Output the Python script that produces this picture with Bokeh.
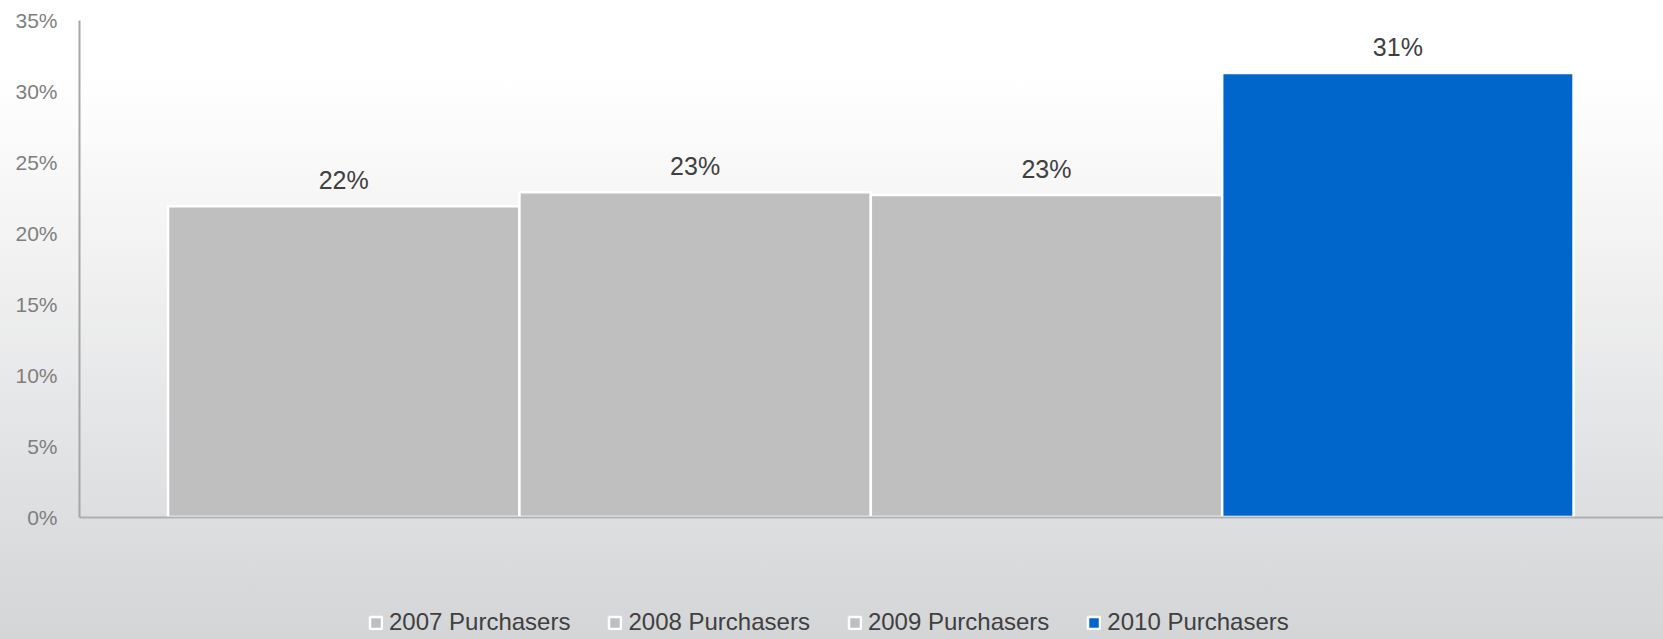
from bokeh.plotting import figure
from bokeh.models import (Range1d, FixedTicker, PrintfTickFormatter, Legend,
                          LegendItem, ColumnDataSource)
from bokeh.core.properties import value
from bokeh.embed import file_html
from bokeh.resources import INLINE

# ---- data ----
series = ["2007 Purchasers", "2008 Purchasers", "2009 Purchasers", "2010 Purchasers"]
values = [21.9, 22.9, 22.7, 31.3]
colors = ["#bfbfbf", "#bfbfbf", "#bfbfbf", "#0066cc"]
y_ticks = [0, 5, 10, 15, 20, 25, 30, 35]

positions = list(range(1, len(series) + 1))
labels = [f"{round(v)}%" for v in values]
source = ColumnDataSource(dict(x=positions, top=values, color=colors,
                               series=series, label=labels))

FONT = "Liberation Sans"

# frame covers the legend strip too; the axes are pinned at 0
p = figure(width=1663, height=639, output_backend="svg", toolbar_location=None,
           x_range=Range1d(0.248, 4.756), y_range=Range1d(-8.635, 35),
           min_border_left=79, min_border_right=0, min_border_top=20,
           min_border_bottom=0)
p.background_fill_alpha = 0
p.border_fill_alpha = 0
p.styles = {"background": "linear-gradient(to bottom, #ffffff 12%, #d4d5d7 100%)"}
p.outline_line_color = None
p.grid.visible = False

r = p.vbar(x="x", top="top", width=1.0, bottom=0, source=source,
           fill_color="color", line_color="white", line_width=2.5)

p.text(x="x", y="top", text="label", source=source, text_align="center",
       text_baseline="middle", y_offset=-26, text_font_size="25px",
       text_color="#404040", text_font=value(FONT))

# y axis
ya = p.yaxis[0]
ya.ticker = FixedTicker(ticks=y_ticks)
ya.bounds = (0, 35)
ya.formatter = PrintfTickFormatter(format="%d%%")
ya.major_tick_in = 0
ya.major_tick_out = 0
ya.minor_tick_in = 0
ya.minor_tick_out = 0
ya.major_label_standoff = 22
ya.major_label_text_font_size = "21px"
ya.major_label_text_color = "#7f7f7f"
ya.major_label_text_font = FONT
ya.axis_line_color = "#a6a6a6"
ya.axis_line_width = 2

# x axis (baseline at 0)
xa = p.xaxis[0]
xa.fixed_location = 0
xa.ticker = FixedTicker(ticks=[])
xa.major_tick_in = 0
xa.major_tick_out = 0
xa.minor_tick_in = 0
xa.minor_tick_out = 0
xa.axis_line_color = "#b0b0b0"
xa.axis_line_width = 2

legend = Legend(items=[LegendItem(label=s, renderers=[r], index=i)
                       for i, s in enumerate(series)],
                orientation="horizontal", location=(289, 3),
                label_text_font_size="24px", label_text_color="#404040",
                label_text_font=FONT, glyph_width=15, glyph_height=15,
                label_standoff=6, spacing=37, padding=0, margin=0,
                border_line_color=None, background_fill_alpha=0)
p.add_layout(legend)

open("out.html", "w").write(file_html(p, INLINE))
